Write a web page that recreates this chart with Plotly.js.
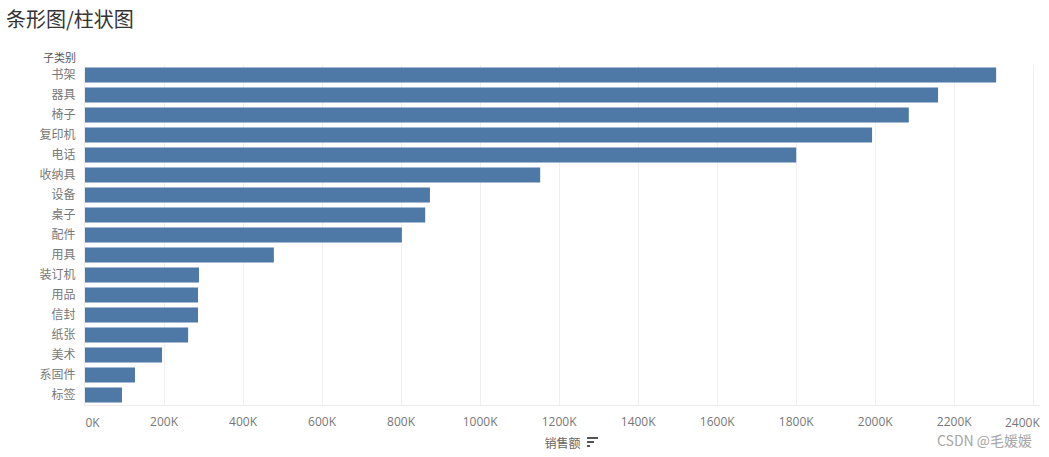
<!DOCTYPE html>
<html>
<head>
<meta charset="utf-8">
<script src="https://cdn.plot.ly/plotly-3.0.1.min.js"></script>
<style>
html,body{margin:0;padding:0;background:#fff;}
#chart{width:1049px;height:457px;}
</style>
</head>
<body>
<div id="chart"></div>
<script>
// Data
const categories = ["书架","器具","椅子","复印机","电话","收纳具","设备","桌子","配件","用具","装订机","用品","信封","纸张","美术","系固件","标签"];
const sales = [2306000, 2159000, 2085000, 1992000, 1800000, 1152000, 873000, 861000, 802000, 478000, 288500, 286000, 286000, 261000, 195000, 126500, 93600];
const tickValues = [0, 200000, 400000, 600000, 800000, 1000000, 1200000, 1400000, 1600000, 1800000, 2000000, 2200000, 2400000];
const tickLabels = ["0K","200K","400K","600K","800K","1000K","1200K","1400K","1600K","1800K","2000K","2200K","2400K"];

const last = tickLabels.length - 1;
// inner labels on the main axis; first/last labels are placed on overlay axes so they stay in bounds
const innerLabels = tickLabels.map((t, i) => (i === 0 || i === last) ? '' : t);

const cjk = '"Noto Sans CJK SC", "Noto Sans", sans-serif';
const latin = '"Open Sans", "Liberation Sans", sans-serif';
const xRange = [0, 2417000];

const trace = {
  type: 'bar',
  orientation: 'h',
  x: sales,
  y: categories,
  marker: {color: '#4e79a7'},
  hoverinfo: 'none'
};
// empty helper traces so the overlay tick-label axes get drawn
const helper2 = {type: 'scatter', mode: 'none', x: [], y: [], xaxis: 'x2', yaxis: 'y', hoverinfo: 'none', showlegend: false};
const helper3 = {type: 'scatter', mode: 'none', x: [], y: [], xaxis: 'x3', yaxis: 'y', hoverinfo: 'none', showlegend: false};

// paper coords for small sort icon next to the axis title
const pw = 955, ph = 340, l = 85, t = 65;
function px(x){return (x - l)/pw;}
function py(y){return (t + ph - y)/ph;}
const iconLines = [[587,598,438],[587,594,442],[587,590,446]];
const shapes = iconLines.map(([a,b,y]) => ({
  type:'line', xref:'paper', yref:'paper',
  x0:px(a), x1:px(b), y0:py(y), y1:py(y),
  line:{color:'#555', width:2}
}));

const tickFont = {family: latin, size: 12, color: '#777'};
function overlayAxis(vals, texts, pos, shift){
  return {
    overlaying: 'x', anchor: 'y', side: 'bottom',
    range: xRange, autorange: false, tickvals: vals, ticktext: texts,
    tickfont: tickFont, ticklabelposition: pos, ticklabelshift: shift, ticklabelstandoff: 7,
    ticks: 'outside', ticklen: 6, tickcolor: 'rgba(0,0,0,0)',
    showgrid: false, zeroline: false, showline: false, fixedrange: true
  };
}

const layout = {
  width: 1049, height: 457,
  margin: {l: l, r: 9, t: t, b: 52},
  paper_bgcolor: '#fff', plot_bgcolor: '#fff',
  showlegend: false,
  bargap: 0.25,
  title: {
    text: '条形图/柱状图',
    font: {family: cjk, size: 20, color: '#333'},
    x: 6/1049, xanchor: 'left', xref: 'container',
    y: 1 - 20/457, yanchor: 'middle', yref: 'container'
  },
  xaxis: {
    range: xRange,
    tickvals: tickValues,
    ticktext: innerLabels,
    tickfont: tickFont,
    showgrid: true, gridcolor: '#f0f0f0', gridwidth: 1,
    zeroline: false,
    showline: true, linecolor: '#ececec', linewidth: 1,
    ticks: 'outside', ticklen: 6, tickcolor: 'rgba(0,0,0,0)',
    fixedrange: true,
    title: {text: '销售额', font: {family: cjk, size: 12, color: '#666'}, standoff: 10}
  },
  xaxis2: overlayAxis([tickValues[0]], [tickLabels[0]], 'outside right', 0),
  xaxis3: overlayAxis([tickValues[last]], [tickLabels[last]], 'outside left', 7),
  yaxis: {
    autorange: 'reversed',
    type: 'category',
    tickfont: {family: cjk, size: 12, color: '#777'},
    showgrid: false, zeroline: false,
    showline: true, linecolor: '#ececec', linewidth: 1,
    ticks: 'outside', ticklen: 6, tickcolor: 'rgba(0,0,0,0)',
    fixedrange: true
  },
  shapes: shapes,
  annotations: [
    {text: '子类别', xref: 'paper', yref: 'paper', x: px(78), y: py(57), xanchor: 'right', yanchor: 'middle',
     showarrow: false, font: {family: cjk, size: 11, color: '#555'}},
    {text: 'CSDN @毛媛媛', xref: 'paper', yref: 'paper', x: px(1034), y: py(440), xanchor: 'right', yanchor: 'middle',
     showarrow: false, font: {family: cjk, size: 14, color: '#a6a6a6'}}
  ]
};

Plotly.newPlot('chart', [trace, helper2, helper3], layout, {displayModeBar: false, staticPlot: true});
</script>
</body>
</html>
